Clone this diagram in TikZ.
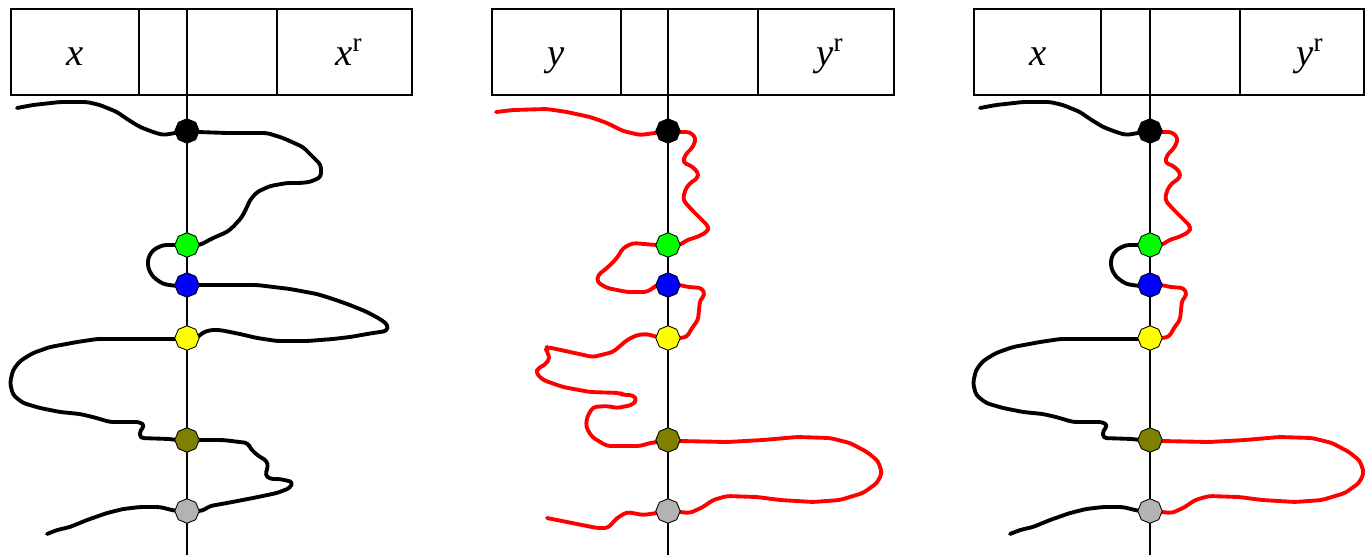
\documentclass[tikz,border=0pt]{standalone}
\usepackage{fontspec}
\setmainfont{Liberation Serif}
\usepackage{tikz}
\usetikzlibrary{shapes.geometric,backgrounds}
\definecolor{DotGreen}{RGB}{0, 255, 0}
\definecolor{DotBlue}{RGB}{0, 0, 255}
\definecolor{DotYellow}{RGB}{255, 255, 0}
\definecolor{DotOlive}{RGB}{128, 128, 0}
\definecolor{DotGray}{RGB}{179, 179, 179}
\definecolor{PathRed}{RGB}{255, 0, 0}

\begin{document}
\begin{tikzpicture}[
        x=0.02cm, y=-0.02cm,
        cell/.style={draw, line width=0.75pt},
        axisline/.style={line width=0.75pt},
        tag/.style={anchor=base, font=\fontsize{22}{26}\selectfont\itshape},
        dot/.style={regular polygon, regular polygon sides=8, shape border rotate=22.5,
                    draw=black, line width=0.5pt, minimum size=0.49cm, inner sep=0pt},
        blk/.style={line width=2.2pt, line join=round, line cap=round, rounded corners=2pt, black},
        rd/.style={line width=2.2pt, line join=round, line cap=round, rounded corners=2pt, PathRed},
        % runs of the black string, x measured from the axis
        blackIn/.style={insert path={-- (-154,105) -- (-127,102) -- (-100,102) -- (-87,105) -- (-70,112)
            -- (-60,119) -- (-47,127) -- (-34,132) -- (-24,135) -- (-12,133)}},
        blackKG/.style={insert path={-- (11,132) -- (40,133) -- (80,133) -- (96,138) -- (116,147) -- (126,157)
            -- (134,165) -- (134,177) -- (123,182) -- (113,183) -- (100,183) -- (83,186) -- (70,192)
            -- (63,200) -- (60,207) -- (55,217) -- (46,227) -- (40,232) -- (26,238) -- (13,245)}},
        blackGB/.style={insert path={-- (-12,245) -- (-24,245) -- (-34,250) -- (-39,258) -- (-39,268)
            -- (-34,277) -- (-24,284) -- (-11,286)}},
        blackBY/.style={insert path={-- (11,285) -- (40,285) -- (70,285) -- (103,289) -- (130,294) -- (146,299)
            -- (163,305) -- (180,312) -- (193,319) -- (201,325) -- (200,331) -- (186,333) -- (163,337)
            -- (146,339) -- (120,341) -- (90,341) -- (70,338) -- (53,334) -- (33,330) -- (23,330)
            -- (15,333) -- (10,338)}},
        blackYO/.style={insert path={-- (-11,339) -- (-54,339) -- (-90,339) -- (-110,342) -- (-137,347)
            -- (-154,353) -- (-167,361) -- (-174,370) -- (-177,383) -- (-174,395) -- (-164,403)
            -- (-147,408) -- (-127,412) -- (-107,414) -- (-94,417) -- (-77,422) -- (-47,422)
            -- (-42,426) -- (-47,430) -- (-47,438) -- (-17,439) -- (-11,440)}},
        blackOS/.style={insert path={-- (11,440) -- (36,440) -- (61,443) -- (63,448) -- (70,455) -- (80,461)
            -- (81,467) -- (78,475) -- (83,479) -- (93,479) -- (106,482) -- (103,488) -- (90,493)
            -- (66,498) -- (40,503) -- (23,506) -- (15,511)}},
        blackOut/.style={insert path={-- (-11,511) -- (-27,507) -- (-47,507) -- (-64,509) -- (-80,513)
            -- (-100,520) -- (-117,527) -- (-130,530)}},
        % runs of the red string
        redIn/.style={insert path={-- (-155,110) -- (-121,109) -- (-101,112) -- (-78,117) -- (-61,123)
            -- (-45,131) -- (-28,135) -- (-13,133)}},
        redKG/.style={insert path={-- (12,132) -- (22,132) -- (28,138) -- (25,147) -- (17,155) -- (15,163)
            -- (22,165) -- (30,172) -- (30,178) -- (22,183) -- (17,190) -- (15,200) -- (22,208)
            -- (32,218) -- (41,227) -- (39,232) -- (29,237) -- (19,240) -- (12,245)}},
        redGB/.style={insert path={-- (-12,245) -- (-35,243) -- (-45,248) -- (-51,258) -- (-61,268)
            -- (-70,275) -- (-71,282) -- (-61,288) -- (-41,292) -- (-21,292) -- (-15,288) -- (-11,285)}},
        redBY/.style={insert path={-- (12,285) -- (20,287) -- (34,288) -- (37,295) -- (32,300) -- (31,310)
            -- (30,320) -- (24,328) -- (19,337) -- (12,338)}},
        redYO/.style={insert path={-- (-11,337) -- (-21,334) -- (-31,335) -- (-41,340) -- (-55,352)
            -- (-75,357) -- (-98,352) -- (-121,347) -- (-122,350) -- (-118,358) -- (-123,365)
            -- (-130,368) -- (-132,373) -- (-125,380) -- (-105,387) -- (-78,392) -- (-48,393)
            -- (-45,395) -- (-35,395) -- (-31,400) -- (-36,405) -- (-51,408) -- (-61,406) -- (-75,407)
            -- (-81,417) -- (-82,427) -- (-76,437) -- (-61,446) -- (-28,446) -- (-18,443) -- (-11,442)}},
        redOS/.style={insert path={-- (12,441) -- (59,442) -- (95,440) -- (129,437) -- (162,438)
            -- (182,443) -- (199,452) -- (210,461) -- (214,473) -- (209,483) -- (195,493) -- (172,500)
            -- (145,502) -- (112,500) -- (89,497) -- (59,496) -- (45,500) -- (35,507) -- (22,513)
            -- (12,512)}},
        redOut/.style={insert path={-- (-11,513) -- (-25,515) -- (-41,512) -- (-51,518) -- (-60,528)
            -- (-71,528)}}
    ]
    \useasboundingbox (0,0) rectangle (1365,555);

    % left panel: x
    \begin{scope}[shift={(187,0)}]
        \draw[cell] (-176,9) rectangle (225,95);
        \draw[cell] (-48,9) -- (-48,95) (90,9) -- (90,95);
        \node[tag] (lx1) at (-112,65) {x};
        \node[tag] (lxr1) at (157,65) {x\rlap{\upshape\textsuperscript{r}}};
        \node[dot, fill=black] (k1) at (0,131) {};
        \node[dot, fill=DotGreen] (g1) at (0,245) {};
        \node[dot, fill=DotBlue] (b1) at (0,285) {};
        \node[dot, fill=DotYellow] (y1) at (0,338) {};
        \node[dot, fill=DotOlive] (o1) at (0,440) {};
        \node[dot, fill=DotGray] (s1) at (0,511) {};
        \coordinate (top1) at (0,9);
        \coordinate (bot1) at (0,555);
        \coordinate (st1) at (-170,108);
        \coordinate (en1) at (-140,534);
        \begin{scope}[on background layer]
            \draw[axisline] (top1) -- (bot1);
            \draw[blk] (st1) [blackIn] -- (k1.center);
            \draw[blk] (k1.center) [blackKG] -- (g1.center);
            \draw[blk] (g1.center) [blackGB] -- (b1.center);
            \draw[blk] (b1.center) [blackBY] -- (y1.center);
            \draw[blk] (y1.center) [blackYO] -- (o1.center);
            \draw[blk] (o1.center) [blackOS] -- (s1.center);
            \draw[blk] (s1.center) [blackOut] -- (en1);
        \end{scope}
    \end{scope}

    % middle panel: y
    \begin{scope}[shift={(668,0)}]
        \draw[cell] (-176,9) rectangle (226,95);
        \draw[cell] (-47,9) -- (-47,95) (90,9) -- (90,95);
        \node[tag] (ly2) at (-112,65) {y};
        \node[tag] (lyr2) at (157,65) {y\rlap{\upshape\textsuperscript{r}}};
        \node[dot, fill=black] (k2) at (0,131) {};
        \node[dot, fill=DotGreen] (g2) at (0,245) {};
        \node[dot, fill=DotBlue] (b2) at (0,285) {};
        \node[dot, fill=DotYellow] (y2) at (0,338) {};
        \node[dot, fill=DotOlive] (o2) at (0,440) {};
        \node[dot, fill=DotGray] (s2) at (0,511) {};
        \coordinate (top2) at (0,9);
        \coordinate (bot2) at (0,555);
        \coordinate (st2) at (-172,112);
        \coordinate (en2) at (-121,518);
        \begin{scope}[on background layer]
            \draw[axisline] (top2) -- (bot2);
            \draw[rd] (st2) [redIn] -- (k2.center);
            \draw[rd] (k2.center) [redKG] -- (g2.center);
            \draw[rd] (g2.center) [redGB] -- (b2.center);
            \draw[rd] (b2.center) [redBY] -- (y2.center);
            \draw[rd] (y2.center) [redYO] -- (o2.center);
            \draw[rd] (o2.center) [redOS] -- (s2.center);
            \draw[rd] (s2.center) [redOut] -- (en2);
        \end{scope}
    \end{scope}

    % right panel: x with y^r
    \begin{scope}[shift={(1150,0)}]
        \draw[cell] (-176,9) rectangle (214,95);
        \draw[cell] (-49,9) -- (-49,95) (90,9) -- (90,95);
        \node[tag] (lx3) at (-112,65) {x};
        \node[tag] (lyr3) at (155,65) {y\rlap{\upshape\textsuperscript{r}}};
        \node[dot, fill=black] (k3) at (0,131) {};
        \node[dot, fill=DotGreen] (g3) at (0,245) {};
        \node[dot, fill=DotBlue] (b3) at (0,285) {};
        \node[dot, fill=DotYellow] (y3) at (0,338) {};
        \node[dot, fill=DotOlive] (o3) at (0,440) {};
        \node[dot, fill=DotGray] (s3) at (0,511) {};
        \coordinate (top3) at (0,9);
        \coordinate (bot3) at (0,555);
        \coordinate (st3) at (-170,108);
        \coordinate (en3) at (-140,534);
        \begin{scope}[on background layer]
            \draw[axisline] (top3) -- (bot3);
            \draw[blk] (st3) [blackIn] -- (k3.center);
            \draw[rd] (k3.center) [redKG] -- (g3.center);
            \draw[blk] (g3.center) [blackGB] -- (b3.center);
            \draw[rd] (b3.center) [redBY] -- (y3.center);
            \draw[blk] (y3.center) [blackYO] -- (o3.center);
            \draw[rd] (o3.center) [redOS] -- (s3.center);
            \draw[blk] (s3.center) [blackOut] -- (en3);
        \end{scope}
    \end{scope}
\end{tikzpicture}
\end{document}
